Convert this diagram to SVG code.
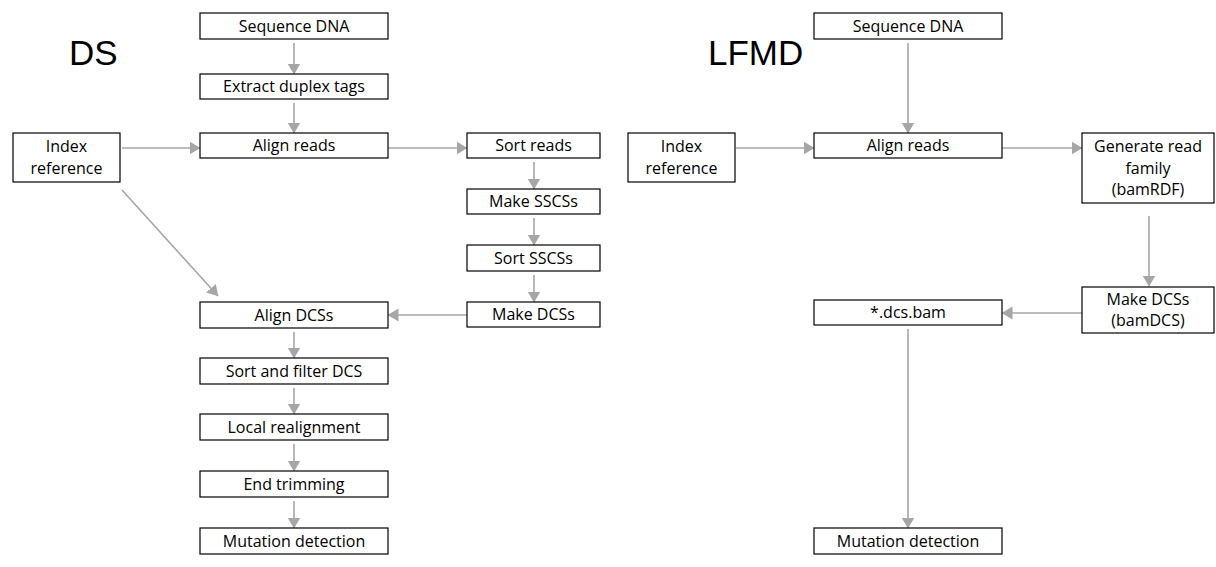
<svg xmlns="http://www.w3.org/2000/svg" width="1216" height="567" viewBox="0 0 1216 567">
<style>
.box{fill:#fff;stroke:#000;stroke-width:1.2}
.t{font-family:"Open Sans","Noto Sans",sans-serif;font-size:16px;fill:#000;text-anchor:middle}
.title{font-family:"Liberation Sans",Arial,sans-serif;font-size:35px;fill:#000}
.c{stroke:#a6a6a6;stroke-width:1.6;fill:none;marker-end:url(#ah)}
</style>
<defs>
<marker id="ah" markerUnits="userSpaceOnUse" markerWidth="11" markerHeight="14" refX="10.5" refY="6.5" orient="auto" viewBox="0 0 11 13">
<path d="M0,0 L11,6.5 L0,13 z" fill="#a6a6a6"/>
</marker>
</defs>
<rect width="1216" height="567" fill="#fff"/>
<text class="title" x="69" y="65">DS</text>
<text class="title" x="708" y="65">LFMD</text>
<g id="connectors">
<line class="c" x1="294" y1="43" x2="294" y2="74"/>
<line class="c" x1="294" y1="103" x2="294" y2="133"/>
<line class="c" x1="122" y1="148" x2="200" y2="148"/>
<line class="c" x1="388" y1="148" x2="467" y2="148"/>
<line class="c" x1="534" y1="162" x2="534" y2="189"/>
<line class="c" x1="534" y1="218" x2="534" y2="245"/>
<line class="c" x1="534" y1="275" x2="534" y2="302"/>
<line class="c" x1="467" y1="315" x2="388" y2="315"/>
<line class="c" x1="122" y1="190" x2="218" y2="296"/>
<line class="c" x1="294" y1="332" x2="294" y2="358"/>
<line class="c" x1="294" y1="388" x2="294" y2="414"/>
<line class="c" x1="294" y1="444" x2="294" y2="471"/>
<line class="c" x1="294" y1="501" x2="294" y2="528"/>
<line class="c" x1="908" y1="43" x2="908" y2="133"/>
<line class="c" x1="736" y1="148" x2="814" y2="148"/>
<line class="c" x1="1002" y1="148" x2="1082" y2="148"/>
<line class="c" x1="1149" y1="216" x2="1149" y2="286"/>
<line class="c" x1="1082" y1="313" x2="1002" y2="313"/>
<line class="c" x1="908" y1="329" x2="908" y2="528"/>
</g>
<g id="ds-seq"><rect class="box" x="200" y="13" width="188" height="26"/><text class="t" x="294" y="32">Sequence DNA</text></g>
<g id="ds-extract"><rect class="box" x="200" y="74" width="188" height="25"/><text class="t" x="294" y="92">Extract duplex tags</text></g>
<g id="ds-align"><rect class="box" x="200" y="133" width="188" height="25"/><text class="t" x="294" y="151">Align reads</text></g>
<g id="ds-index"><rect class="box" x="13" y="133" width="107" height="49"/><text class="t" x="66.5" y="152">Index</text><text class="t" x="66.5" y="174">reference</text></g>
<g id="ds-sortreads"><rect class="box" x="467" y="133" width="133" height="25"/><text class="t" x="533.5" y="151">Sort reads</text></g>
<g id="ds-makesscs"><rect class="box" x="467" y="189" width="133" height="25"/><text class="t" x="533.5" y="207">Make SSCSs</text></g>
<g id="ds-sortsscs"><rect class="box" x="467" y="245" width="133" height="26"/><text class="t" x="533.5" y="264">Sort SSCSs</text></g>
<g id="ds-makedcs"><rect class="box" x="467" y="302" width="133" height="25"/><text class="t" x="533.5" y="320">Make DCSs</text></g>
<g id="ds-aligndcs"><rect class="box" x="200" y="302" width="188" height="26"/><text class="t" x="294" y="321">Align DCSs</text></g>
<g id="ds-sortfilter"><rect class="box" x="200" y="358" width="188" height="26"/><text class="t" x="294" y="377">Sort and filter DCS</text></g>
<g id="ds-local"><rect class="box" x="200" y="414" width="188" height="26"/><text class="t" x="294" y="433">Local realignment</text></g>
<g id="ds-end"><rect class="box" x="200" y="471" width="188" height="26"/><text class="t" x="294" y="490">End trimming</text></g>
<g id="ds-mut"><rect class="box" x="200" y="528" width="188" height="26"/><text class="t" x="294" y="547">Mutation detection</text></g>
<g id="lf-seq"><rect class="box" x="814" y="13" width="188" height="26"/><text class="t" x="908" y="32">Sequence DNA</text></g>
<g id="lf-index"><rect class="box" x="628" y="133" width="107" height="49"/><text class="t" x="681.5" y="152">Index</text><text class="t" x="681.5" y="174">reference</text></g>
<g id="lf-align"><rect class="box" x="814" y="133" width="188" height="25"/><text class="t" x="908" y="151">Align reads</text></g>
<g id="lf-generate"><rect class="box" x="1082" y="133" width="132" height="70"/><text class="t" x="1148" y="152">Generate read</text><text class="t" x="1148" y="174">family</text><text class="t" x="1148" y="195">(bamRDF)</text></g>
<g id="lf-makedcs"><rect class="box" x="1082" y="287" width="132" height="46"/><text class="t" x="1148" y="305">Make DCSs</text><text class="t" x="1148" y="326">(bamDCS)</text></g>
<g id="lf-dcsbam"><rect class="box" x="814" y="300" width="188" height="25"/><text class="t" x="908" y="318">*.dcs.bam</text></g>
<g id="lf-mut"><rect class="box" x="814" y="528" width="188" height="26"/><text class="t" x="908" y="547">Mutation detection</text></g>
</svg>
